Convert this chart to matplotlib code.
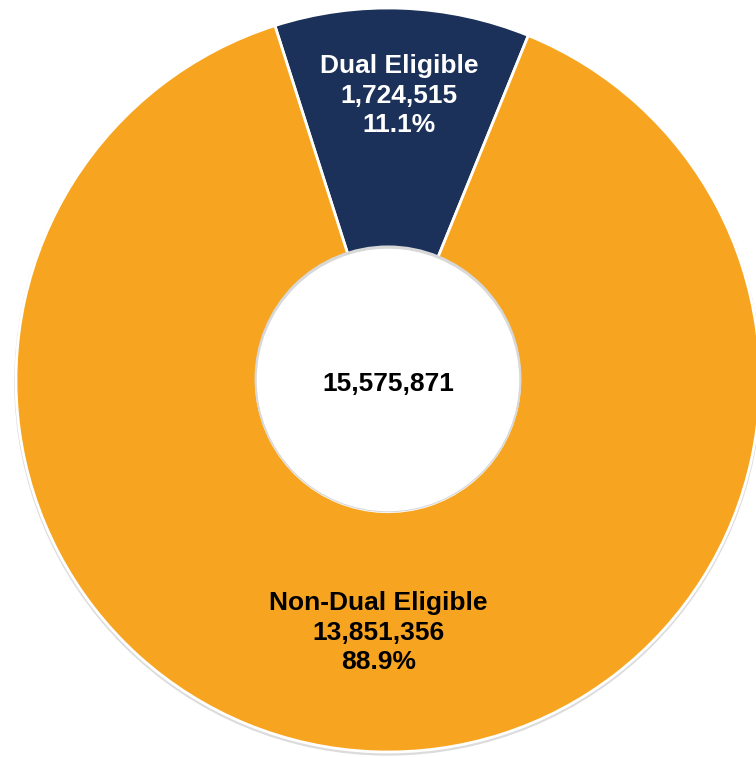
import numpy as np
import matplotlib.pyplot as plt
from matplotlib.patches import Circle

plt.rcParams['font.family'] = ['Liberation Sans', 'DejaVu Sans']

labels = ["Dual Eligible", "Non-Dual Eligible"]
counts = [1724515, 13851356]
colors = ["#1B3159", "#F7A520"]
text_colors = ["white", "black"]
label_radius = [0.765, 0.68]

total = sum(counts)

fig = plt.figure(figsize=(7.56, 7.57), dpi=100)
ax = fig.add_axes([0, 0, 1, 1])

# soft shadow under the ring
ax.add_patch(Circle((0, -0.005), 1.003, color="#dcdcdc", zorder=0))

hole = 0.354
wedges, _ = ax.pie(counts, colors=colors, startangle=107.7, counterclock=False,
                   radius=1.0, wedgeprops=dict(width=1 - hole, edgecolor="white", linewidth=2))
for w in wedges:
    w.set_zorder(1)

# inner hole edge with faint shadow
ax.add_patch(Circle((0, 0.003), hole, facecolor="white", edgecolor="#d8d8d8", linewidth=2.5, zorder=2))
ax.add_patch(Circle((0, 0), hole - 0.004, facecolor="white", edgecolor="white", linewidth=1.5, zorder=3))

for w, lab, n, tc, r in zip(wedges, labels, counts, text_colors, label_radius):
    mid = np.deg2rad((w.theta1 + w.theta2) / 2)
    ax.text(r * np.cos(mid), r * np.sin(mid),
            f"{lab}\n{n:,}\n{n / total * 100:.1f}%",
            ha="center", va="center", color=tc, fontsize=19, fontweight="bold",
            linespacing=1.28, zorder=5)

ax.text(0, -0.01, f"{total:,}", ha="center", va="center", fontsize=19,
        fontweight="bold", color="black", zorder=5)

ax.set_xlim(-388 / 372, 368 / 372)
ax.set_ylim(-377 / 372, 380 / 372)
ax.set_aspect("auto")
ax.axis("off")

fig.savefig("out.png", dpi=100)
